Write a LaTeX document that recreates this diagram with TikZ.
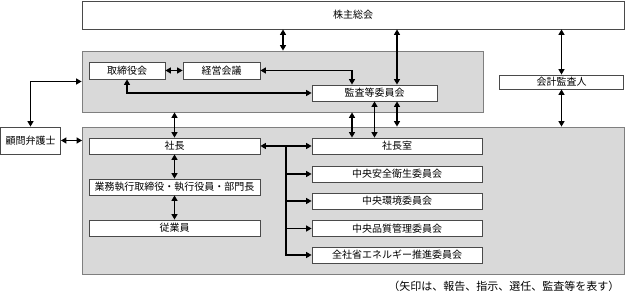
\documentclass[tikz,border=0pt]{standalone}
\usepackage{fontspec}
\setmainfont{Noto Sans CJK JP}
\usepackage{xcolor}
\usetikzlibrary{arrows.meta, positioning, calc}
\definecolor{panelgray}{HTML}{D9D9D9}
\definecolor{edgegray}{HTML}{7F7F7F}
\definecolor{boxedge}{HTML}{4A4A4A}
\tikzstyle{biarrow} = [line width=1.5pt,{Triangle[length=5.5pt,width=6pt]}-{Triangle[length=5.5pt,width=6pt]}]
\tikzstyle{arrow} = [line width=1.5pt,-{Triangle[length=5.5pt,width=6pt]}]
\tikzstyle{panel} = [draw=edgegray, line width=0.8pt, fill=panelgray, inner sep=0pt]
\tikzstyle{unitbox} = [draw=boxedge, line width=0.8pt, fill=white, inner sep=0pt, font=\fontsize{10}{11}\selectfont]

\begin{document}
\begin{tikzpicture}[x=1pt, y=-1pt]
    \useasboundingbox (0,0) rectangle (625,291);

    % Panels
    \node[panel, minimum width=401pt, minimum height=61pt] (upper) at (282.5, 81.5) {};
    \node[panel, minimum width=542pt, minimum height=147pt] (lower) at (353.5, 200.5) {};

    % Shareholders and auditors
    \node[unitbox, minimum width=542pt, minimum height=28pt] (soukai) at (353, 15) {株主総会};
    \node[unitbox, minimum width=124pt, minimum height=14pt] (kaikei) at (561.5, 82) {会計監査人};
    \node[unitbox, minimum width=60pt, minimum height=27pt] (komon) at (30.5, 140.5) {顧問弁護士};

    % Board
    \node[unitbox, minimum width=76pt, minimum height=17pt] (torishimari) at (127, 70.5) {取締役会};
    \node[unitbox, minimum width=77pt, minimum height=17pt] (keiei) at (221.5, 70.5) {経営会議};
    \node[unitbox, minimum width=125pt, minimum height=16pt] (kansa) at (374.5, 93) {監査等委員会};

    % Execution
    \foreach \name/\y/\label in {shacho/146/社長, gyomu/187/業務執行取締役・執行役員・部門長, jugyoin/228/従業員} {
        \node[unitbox, minimum width=171pt, minimum height=16pt] (\name) at (174.5, \y) {\label};
    }

    % Committees
    \foreach \name/\y/\label in {shitsu/146/社長室, anzen/174/中央安全衛生委員会, kankyo/201/中央環境委員会, hinshitsu/228.5/中央品質管理委員会, energy/255/全社省エネルギー推進委員会} {
        \node[unitbox, minimum width=170pt, minimum height=16pt] (\name) at (397, \y) {\label};
    }

    % Vertical links
    \draw[biarrow] (soukai.south -| 283,0) -- (upper.north -| 283,0);
    \draw[biarrow] (soukai.south -| 397,0) -- (kansa.north -| 397,0);
    \draw[biarrow] (soukai.south -| kaikei) -- (kaikei.north);
    \draw[biarrow] (kaikei.south) -- (lower.north -| kaikei);
    \draw[biarrow] (upper.south -| shacho) -- (shacho.north);
    \draw[biarrow] (upper.south -| 352,0) -- (shitsu.north -| 352,0);
    \draw[biarrow] (kansa.south) -- (shitsu.north -| kansa);
    \draw[biarrow] (kansa.south -| 397,0) -- (lower.north -| 397,0);
    \draw[biarrow] (shacho) -- (gyomu);
    \draw[biarrow] (gyomu) -- (jugyoin);

    % Board links
    \draw[biarrow] (torishimari) -- (keiei);
    \draw[biarrow] (keiei.east) -| (kansa.north -| 352,0);
    \draw[biarrow] (torishimari.south) |- (kansa.west);

    % Legal counsel
    \draw[biarrow] (komon.north) |- (upper.west);
    \draw[biarrow] (komon.east) -- (komon.east -| lower.west);

    % President to committees
    \draw[biarrow] (shacho.east) -- (shitsu.west);
    \coordinate (bus) at (286, 146);
    \draw[arrow] (bus) |- (energy.west);
    \foreach \name in {anzen, kankyo, hinshitsu} {
        \draw[arrow] (bus |- \name.west) -- (\name.west);
    }

    % Note
    \node[anchor=east, font=\fontsize{11}{12}\selectfont] (note) at (623, 286) {（矢印は、報告、指示、選任、監査等を表す）};
\end{tikzpicture}
\end{document}
